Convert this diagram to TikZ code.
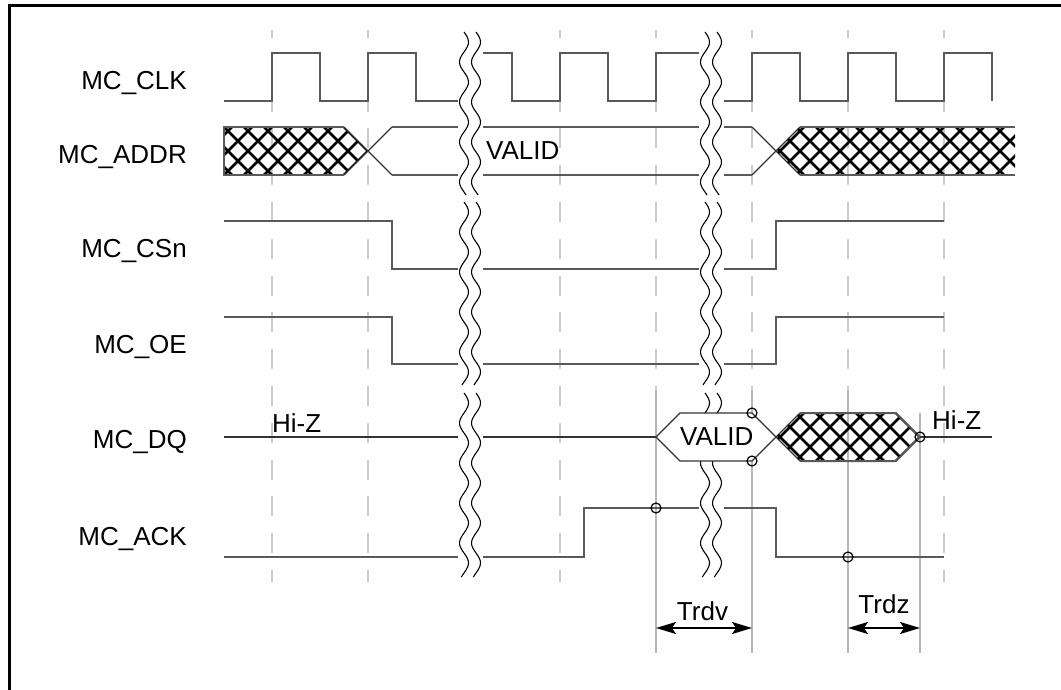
\documentclass[tikz,border=0pt]{standalone}
\usepackage{fontspec}
\setmainfont{Liberation Sans}
\usetikzlibrary{arrows.meta}

\tikzset{
  sig/.style={draw=black!65, line width=2pt},
  thinsig/.style={draw=black!80, line width=1.3pt},
  gridline/.style={draw=black!20, line width=2pt, dash pattern=on 20pt off 16.8pt, dash phase=12pt},
  markline/.style={draw=black!28, line width=2pt},
  hatchline/.style={draw=black, line width=2.7pt},
  brk/.style={draw=black, line width=1.1pt},
  probe/.style={draw=black, line width=1.2pt, circle, minimum size=10pt, inner sep=0pt},
  lbl/.style={font=\fontsize{26}{31}\selectfont, inner sep=0pt},
  dimarrow/.style={line width=2pt, {Stealth[length=20pt,width=12pt,inset=4pt]}-{Stealth[length=20pt,width=12pt,inset=4pt]}},
}

\begin{document}
\begin{tikzpicture}[x=1pt,y=-1pt]
\useasboundingbox (0,0) rectangle (1061,690);
% Frame
\draw[line width=3pt] (9,690) -- (9,6) -- (1061,6);
% Grid
\foreach \gx in {272,368,560,656,752,848,944}
  \draw[gridline] (\gx,30) -- (\gx,582);
% Timing reference lines
\foreach \gx/\gy in {656/390,752/390,848/390,920/413}
  \draw[markline] (\gx,\gy) -- (\gx,653);

% Signal names
\node[lbl, anchor=base east] (nclk) at (187,90) {MC\_CLK};
\node[lbl, anchor=base east] (naddr) at (187,164) {MC\_ADDR};
\node[lbl, anchor=base east] (ncsn) at (187,258) {MC\_CSn};
\node[lbl, anchor=base east] (noe) at (187,353) {MC\_OE};
\node[lbl, anchor=base east] (ndq) at (187,448) {MC\_DQ};
\node[lbl, anchor=base east] (nack) at (187,545) {MC\_ACK};

% MC_CLK
\draw[sig] (224,101)
  \foreach \px in {272,368,464,560,656,752,848,944}
    { -- (\px,101) -- (\px,53) -- (\px+48,53) -- (\px+48,101) };

% MC_ADDR
\begin{scope}
\clip (224,127) -- (344,127) -- (368,151) -- (344,175) -- (224,175) -- cycle;
\foreach \hx in {164,184,...,384}
  \draw[hatchline] (\hx,127) -- (\hx+48,175) (\hx+48,127) -- (\hx,175);
\end{scope}
\draw[sig] (344,127) -- (224,127) -- (224,175) -- (344,175);
\draw[thinsig] (344,127) -- (392,175) (344,175) -- (392,127);
\draw[sig] (392,127) -- (752,127) (392,175) -- (752,175);
\draw[thinsig] (752,127) -- (800,175) (752,175) -- (800,127);
\begin{scope}
\clip (776,151) -- (800,127) -- (1015,127) -- (1015,175) -- (800,175) -- cycle;
\foreach \hx in {716,736,...,1036}
  \draw[hatchline] (\hx,127) -- (\hx+48,175) (\hx+48,127) -- (\hx,175);
\end{scope}
\draw[sig] (800,127) -- (1015,127) (800,175) -- (1015,175);
\node[lbl, anchor=base west] (avalid) at (486,159.5) {VALID};

% MC_CSn and MC_OE
\draw[sig] (224,221) -- (392,221) -- (392,269) -- (776,269) -- (776,221) -- (944,221);
\draw[sig] (224,317) -- (392,317) -- (392,364) -- (776,364) -- (776,317) -- (944,317);

% MC_DQ (Hi-Z part)
\draw[thinsig] (224,437) -- (656,437);
\node[lbl, anchor=base west] (hiz1) at (272,432) {Hi-Z};

% MC_ACK
\draw[sig] (224,557) -- (584,557) -- (584,508) -- (776,508) -- (776,557) -- (944,557);

% Breaks
\fill[white] (458,28) rectangle (483,582);
\fill[white] (699,28) rectangle (724,582);
\foreach \bx in {470,711}
  \foreach \ya/\yb in {32/195,202/385,393/577} {
    \draw[brk] plot[domain=\ya:\yb, samples=70, variable=\t] ({\bx-6+4.5*sin(9*(\t-\ya))}, \t);
    \draw[brk] plot[domain=\ya:\yb, samples=70, variable=\t] ({\bx+6+4.5*sin(9*(\t-\ya))}, \t);
  }

% MC_DQ (data part, over the break)
\fill[white] (656,437) -- (680,413) -- (752,413) -- (776,437) -- (752,461) -- (680,461) -- cycle;
\draw[thinsig] (656,437) -- (680,413) -- (752,413) -- (800,461);
\draw[thinsig] (656,437) -- (680,461) -- (752,461) -- (800,413);
\begin{scope}
\clip (776,437) -- (800,413) -- (896,413) -- (920,437) -- (896,461) -- (800,461) -- cycle;
\foreach \hx in {716,736,...,936}
  \draw[hatchline] (\hx,413) -- (\hx+48,461) (\hx+48,413) -- (\hx,461);
\end{scope}
\draw[sig] (800,413) -- (896,413) -- (920,437) -- (896,461) -- (800,461);
\draw[thinsig] (920,437) -- (992,437);
\node[lbl, anchor=base west] (dvalid) at (680,445.5) {VALID};
\node[lbl, anchor=base west] (hiz2) at (932,429) {Hi-Z};

% Probe points
\node[probe] (pack1) at (656,508) {};
\node[probe] (pack2) at (848,557) {};
\node[probe] (pdq1) at (752,413) {};
\node[probe] (pdq2) at (752,461) {};
\node[probe] (pdq3) at (920,437) {};

% Timing arrows
\coordinate (trdvL) at (656,628);
\coordinate (trdvR) at (752,628);
\coordinate (trdzL) at (848,628);
\coordinate (trdzR) at (920,628);
\draw[dimarrow] (trdvL) -- (trdvR);
\draw[dimarrow] (trdzL) -- (trdzR);
\node[lbl, anchor=base] (ltrdv) at (702.5,620) {Trdv};
\node[lbl, anchor=base] (ltrdz) at (884,613) {Trdz};
\end{tikzpicture}
\end{document}
